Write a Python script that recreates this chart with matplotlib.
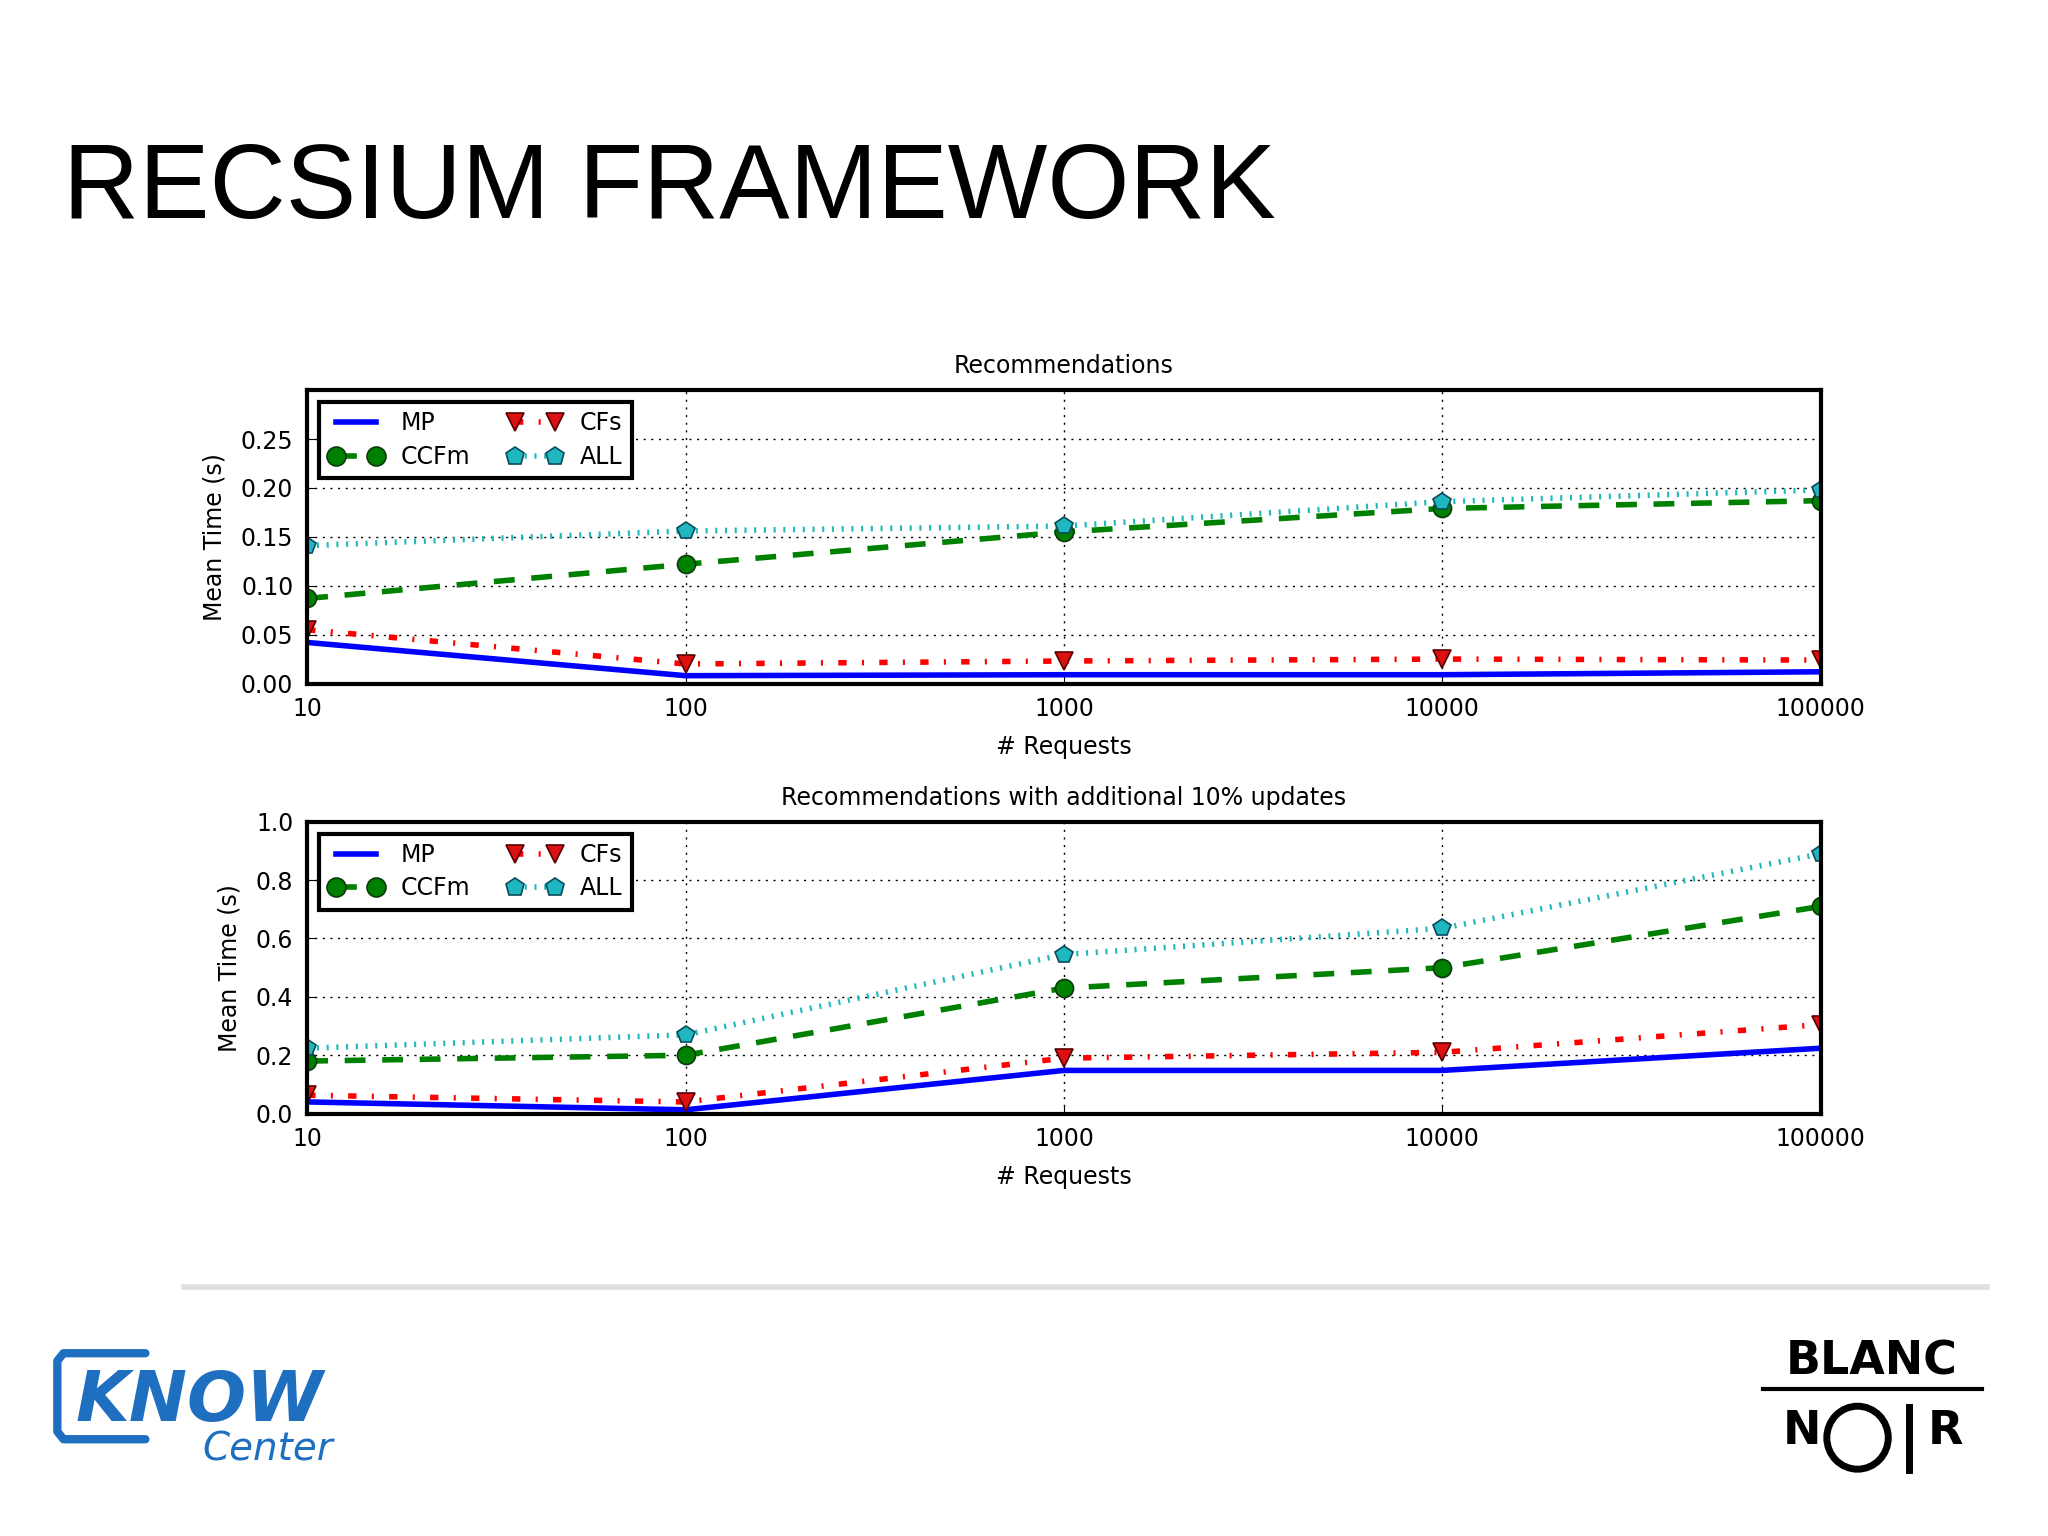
import matplotlib.pyplot as plt
import matplotlib.lines as mlines
from matplotlib.patches import Ellipse
import numpy as np

# %% Data

requests = np.array([10, 100, 1000, 10000, 100000])  # [antall]
xtick_labels = ["10", "100", "1000", "10000", "100000"]

# Recommendations [s]
mp_rec = np.array([0.042, 0.008, 0.009, 0.009, 0.012])
cfs_rec = np.array([0.055, 0.020, 0.023, 0.025, 0.024])
ccfm_rec = np.array([0.087, 0.122, 0.155, 0.179, 0.187])
all_rec = np.array([0.141, 0.156, 0.161, 0.186, 0.198])

# Recommendations with additional 10% updates [s]
mp_upd = np.array([0.040, 0.013, 0.148, 0.148, 0.224])
cfs_upd = np.array([0.063, 0.040, 0.190, 0.210, 0.305])
ccfm_upd = np.array([0.180, 0.200, 0.430, 0.500, 0.710])
all_upd = np.array([0.224, 0.270, 0.545, 0.635, 0.890])

names = ["MP", "CCFm", "CFs", "ALL"]

# %% Plotting

plt.close("all")
plt.rcParams["font.family"] = "DejaVu Sans"
plt.rcParams["lines.scale_dashes"] = False

fig = plt.figure(figsize=(20.48, 15.36), dpi=100)
fig.patch.set_facecolor("white")

# tittel på sliden
fig.text(0.031, 0.858, "RECSIUM FRAMEWORK", fontsize=76,
         family="Liberation Sans", color="black", va="baseline")


def tegn(ax, mp, cfs, ccfm, alle, title, ymax, yticks, yfmt):
    ax.plot(requests, mp, color="blue", lw=4, ls="-", label=names[0])
    ax.plot(requests, ccfm, color="green", lw=4, ls=(0, (15, 12)),
            marker="o", ms=13, mfc="green", mec="#0a3a0a", mew=1.2,
            label=names[1])
    ax.plot(requests, cfs, color="red", lw=4, ls=(0, (6, 11, 1.5, 11)),
            marker="v", ms=13, mfc="#dd1111", mec="#5a0000", mew=1.2,
            label=names[2])
    ax.plot(requests, alle, color="#20b8b8", lw=4, ls=(0, (1.5, 5.5)),
            marker="p", ms=13, mfc="#20b8c0", mec="#0a4a5a", mew=1.2,
            label=names[3])
    ax.set_xscale("log")
    ax.set_xlim(10, 100000)
    ax.set_ylim(0, ymax)
    ax.set_xticks(requests)
    ax.set_xticklabels(xtick_labels)
    ax.minorticks_off()
    ax.set_yticks(yticks)
    ax.set_yticklabels([yfmt % v for v in yticks])
    ax.tick_params(labelsize=17, direction="in", length=6, pad=10)
    ax.grid(True, color="black", ls=(0, (1.5, 4)), lw=1)
    for s in ax.spines.values():
        s.set_linewidth(3)
    ax.set_title(title, fontsize=17, pad=12)
    ax.set_xlabel("# Requests", fontsize=17, labelpad=10)
    ax.set_ylabel("Mean Time (s)", fontsize=17, labelpad=10)
    leg = ax.legend(loc="upper left", ncol=2, numpoints=2, fontsize=17,
                    fancybox=False, framealpha=1, borderaxespad=0.5,
                    handlelength=2.3, columnspacing=1.6, labelspacing=0.4,
                    handletextpad=0.75, markerscale=1.05)
    leg.get_frame().set_edgecolor("black")
    leg.get_frame().set_linewidth(3)


ax1 = fig.add_axes([0.150, 0.555, 0.739, 0.191])
tegn(ax1, mp_rec, cfs_rec, ccfm_rec, all_rec, "Recommendations",
     0.30, np.arange(0, 0.26, 0.05), "%.2f")

ax2 = fig.add_axes([0.150, 0.275, 0.739, 0.190])
tegn(ax2, mp_upd, cfs_upd, ccfm_upd, all_upd,
     "Recommendations with additional 10% updates",
     1.0, np.arange(0, 1.01, 0.2), "%.1f")

# grå skillelinje
fig.add_artist(mlines.Line2D([0.09, 0.97], [0.162, 0.162], color="#e0e0e0",
                             lw=4, transform=fig.transFigure))

# %% Logoer som tekst

# KNOW Center
blaa = "#1f6fc0"
brakett_x = [0.071, 0.031, 0.028, 0.028, 0.031, 0.071]
brakett_y = [0.119, 0.119, 0.114, 0.068, 0.063, 0.063]
fig.add_artist(mlines.Line2D(brakett_x, brakett_y, color=blaa,
                             lw=6, transform=fig.transFigure,
                             solid_joinstyle="round", solid_capstyle="round"))
fig.text(0.037, 0.075, "KNOW", fontsize=50, fontweight="bold",
         style="italic", color=blaa, family="DejaVu Sans")
fig.text(0.099, 0.049, "Center", fontsize=28, style="italic",
         color=blaa, family="DejaVu Sans")

# BLANC NOIR
fig.text(0.914, 0.105, "BLANC", fontsize=33, fontweight="bold",
         color="black", ha="center", family="DejaVu Sans")
fig.add_artist(mlines.Line2D([0.861, 0.968], [0.096, 0.096], color="black",
                             lw=3, transform=fig.transFigure))
fig.text(0.880, 0.060, "N", fontsize=33, fontweight="bold",
         color="black", ha="center", family="DejaVu Sans")
fig.add_artist(Ellipse((0.907, 0.064), 0.030, 0.041, fill=False,
                       lw=5, edgecolor="black", transform=fig.transFigure))
fig.add_artist(mlines.Line2D([0.932, 0.932], [0.043, 0.084], color="black",
                             lw=5, transform=fig.transFigure))
fig.text(0.950, 0.060, "R", fontsize=33, fontweight="bold",
         color="black", ha="center", family="DejaVu Sans")

plt.savefig("out.png", dpi=100, facecolor="white")
